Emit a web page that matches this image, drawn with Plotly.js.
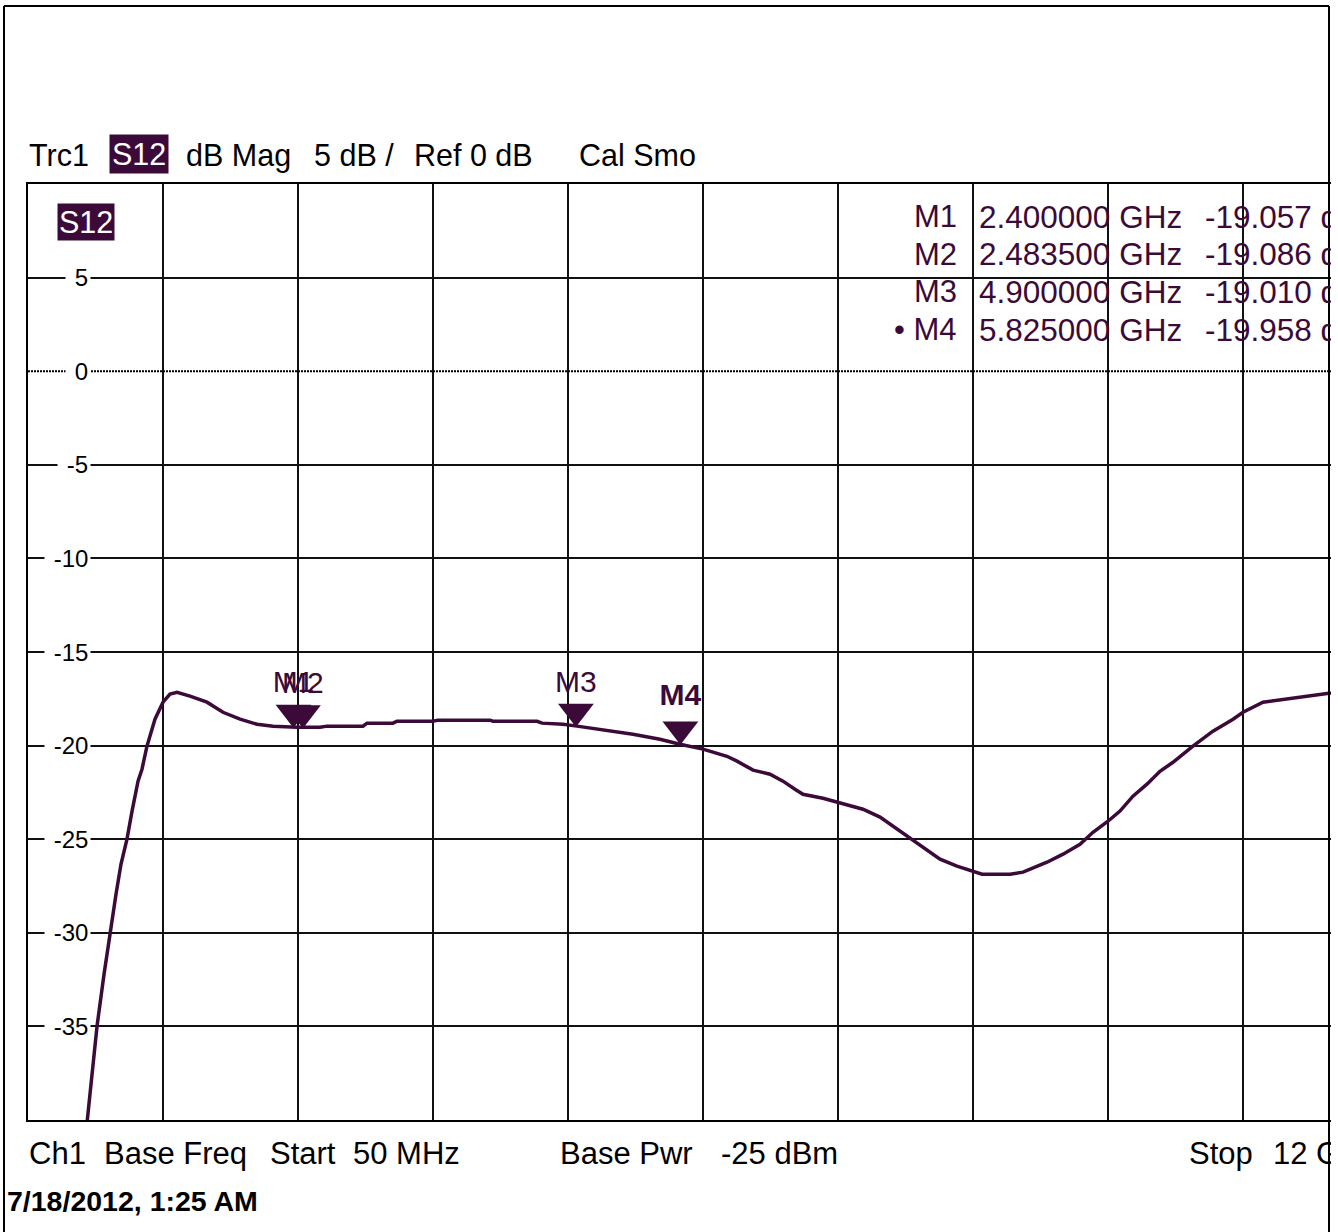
<!DOCTYPE html>
<html>
<head>
<meta charset="utf-8">
<script src="https://cdn.plot.ly/plotly-3.0.1.min.js"></script>
<style>
  html, body { margin: 0; padding: 0; background: #fff; overflow: hidden; }
  #clip { position: absolute; left: 0; top: 0; width: 1331px; height: 1232px; overflow: hidden; }
  #plot { position: absolute; left: 0; top: 0; width: 1420px; height: 1232px; }
</style>
</head>
<body>
<div id="clip"><div id="plot"></div></div>
<script>
// ---- Data ----
const startGHz = 0.05;
const stopGHz = 12;
const yMin = -40;
const yMax = 10;
const freqGHz = [0.52, 0.572, 0.617, 0.661, 0.723, 0.776, 0.829, 0.873, 0.926, 0.971,
  1.024, 1.059, 1.103, 1.174, 1.245, 1.307, 1.369, 1.484, 1.634, 1.776,
  1.927, 2.077, 2.219, 2.431, 2.635, 2.697, 3.015, 3.051, 3.281, 3.316,
  3.635, 3.679, 4.140, 4.166, 4.556, 4.600, 4.786, 4.910, 5.113, 5.405,
  5.644, 5.821, 6.025, 6.237, 6.326, 6.468, 6.618, 6.733, 6.839, 6.910,
  7.087, 7.238, 7.441, 7.592, 7.707, 7.857, 7.946, 8.123, 8.273, 8.415,
  8.495, 8.743, 8.858, 9.070, 9.212, 9.362, 9.477, 9.610, 9.716, 9.831,
  9.955, 10.070, 10.185, 10.362, 10.539, 10.717, 10.805, 10.982, 11.194, 11.310,
  11.425, 11.566, 12.0];
const s12dB = [-43.2, -40.0, -37.29, -34.99, -32.21, -29.97, -27.94, -26.34, -25.0, -23.5,
  -21.9, -21.26, -20.03, -18.59, -17.68, -17.25, -17.15, -17.36, -17.68, -18.22,
  -18.59, -18.86, -18.96, -19.02, -19.02, -18.96, -18.96, -18.80, -18.80, -18.70,
  -18.70, -18.64, -18.64, -18.70, -18.70, -18.80, -18.86, -18.96, -19.12, -19.39,
  -19.66, -19.93, -20.19, -20.57, -20.83, -21.31, -21.53, -21.90, -22.33, -22.60,
  -22.81, -23.08, -23.40, -23.82, -24.31, -24.95, -25.37, -26.07, -26.44, -26.71,
  -26.87, -26.87, -26.76, -26.23, -25.80, -25.27, -24.63, -24.04, -23.50, -22.70,
  -22.06, -21.37, -20.89, -20.03, -19.23, -18.59, -18.22, -17.68, -17.52, -17.41,
  -17.31, -17.20, -16.99];
const markerNames = ['M1', 'M2', 'M3', 'M4'];
const markerFreqGHz = [2.4, 2.4835, 4.9, 5.825];
const markerdB = [-19.057, -19.086, -19.010, -19.958];
const activeMarker = 3;
const yTickVals = [5, 0, -5, -10, -15, -20, -25, -30, -35];
const headerTexts = ['Trc1', 'dB Mag', '5 dB /', 'Ref 0 dB', 'Cal Smo'];
const traceName = 'S12';
const footerTexts = ['Ch1', 'Base Freq', 'Start', '50 MHz', 'Base Pwr', '-25 dBm', 'Stop', '12 GHz'];
const dateText = '7/18/2012, 1:25 AM';

// ---- Layout geometry ----
const W = 1420, H = 1232, L = 28, R = 42, T = 184, B = 112;
const PW = W - L - R, PH = H - T - B;
const px = x => (x - L) / PW;
const py = y => (H - B - y) / PH;

const PURPLE = '#3b0a39';
const FONT = 'Liberation Sans, Arial, sans-serif';

const nDiv = 10;
const xGrid = [];
for (let k = 0; k <= nDiv; k++) xGrid.push(startGHz + k * (stopGHz - startGHz) / nDiv);
const yGrid = yTickVals.filter(v => v !== 0);

const annotations = [];
// y tick labels (inside, with white background breaking the grid)
yTickVals.forEach(v => {
  annotations.push({
    xref: 'paper', yref: 'y', x: px(91), y: v, xanchor: 'right', yanchor: 'middle',
    text: '&nbsp;' + String(v), showarrow: false, bgcolor: '#ffffff', borderpad: 2,
    font: { family: FONT, size: 24, color: '#000' }
  });
});
// header
const headerX = [30, 187, 315, 415, 580];
headerTexts.forEach((t, i) => {
  annotations.push({ xref: 'paper', yref: 'paper', x: px(headerX[i] - 3), y: py(155),
    xanchor: 'left', yanchor: 'middle', text: t, showarrow: false,
    font: { family: FONT, size: 30.5, color: '#000' } });
});
annotations.push({ xref: 'paper', yref: 'paper', x: px(139), y: py(154), xanchor: 'center', yanchor: 'middle',
  text: traceName, showarrow: false, bgcolor: PURPLE, borderpad: 2,
  font: { family: FONT, size: 30.5, color: '#fff' } });
annotations.push({ xref: 'paper', yref: 'paper', x: px(86), y: py(222), xanchor: 'center', yanchor: 'middle',
  text: traceName, showarrow: false, bgcolor: PURPLE, borderpad: 1,
  font: { family: FONT, size: 30.5, color: '#fff' } });
// marker readout
markerNames.forEach((n, i) => {
  const yy = py(216.5 + i * 37.7);
  annotations.push({ xref: 'paper', yref: 'paper', x: px(959), y: yy, xanchor: 'right', yanchor: 'middle',
    text: (i === activeMarker ? '\u2022&nbsp;' : '') + n, showarrow: false,
    font: { family: FONT, size: 31, color: PURPLE } });
  annotations.push({ xref: 'paper', yref: 'paper', x: px(977), y: yy, xanchor: 'left', yanchor: 'middle',
    text: markerFreqGHz[i].toFixed(6) + ' GHz', showarrow: false,
    font: { family: FONT, size: 31.5, color: PURPLE } });
  annotations.push({ xref: 'paper', yref: 'paper', x: px(1203), y: yy, xanchor: 'left', yanchor: 'middle',
    text: markerdB[i].toFixed(3) + ' dB', showarrow: false,
    font: { family: FONT, size: 31.5, color: PURPLE } });
});
// footer
const footerX = [30, 105, 271, 354, 561, 722, 1190, 1274];
footerTexts.forEach((t, i) => {
  annotations.push({ xref: 'paper', yref: 'paper', x: px(footerX[i] - 3), y: py(1153),
    xanchor: 'left', yanchor: 'middle', text: t, showarrow: false,
    font: { family: FONT, size: 31, color: '#000' } });
});
annotations.push({ xref: 'paper', yref: 'paper', x: px(5), y: py(1201), xanchor: 'left', yanchor: 'middle',
  text: '<b>' + dateText + '</b>', showarrow: false,
  font: { family: FONT, size: 28.5, color: '#000' } });

const shapes = [
  // dotted reference line at 0 dB
  { type: 'line', xref: 'paper', yref: 'y', x0: 0, x1: 1, y0: 0, y1: 0, layer: 'above',
    line: { color: '#000', width: 2, dash: '2px,1px' } },
  // outer frame
  { type: 'line', xref: 'paper', yref: 'paper', x0: px(4), x1: px(4), y0: py(6), y1: py(1240), line: { color: '#000', width: 2 } },
  { type: 'line', xref: 'paper', yref: 'paper', x0: px(4), x1: px(1329), y0: py(6), y1: py(6), line: { color: '#000', width: 2 } },
  { type: 'line', xref: 'paper', yref: 'paper', x0: px(1329), x1: px(1329), y0: py(6), y1: py(1240), line: { color: '#000', width: 2 } }
];

const markerSize = 31;
const dBPerPx = (yMax - yMin) / PH;
const markerY = markerdB.map(v => v + (markerSize / 2) * dBPerPx);
const labelY = markerdB.map((v, i) => v + (i === activeMarker ? 47 : 43) * dBPerPx);
const markerText = markerNames.map((n, i) => i === activeMarker ? '<b>' + n + '</b>' : n);

const traces = [
  { x: freqGHz, y: s12dB, type: 'scatter', mode: 'lines',
    line: { color: PURPLE, width: 3.5 }, hoverinfo: 'skip' },
  { x: markerFreqGHz, y: markerY, type: 'scatter', mode: 'markers',
    marker: { symbol: 'triangle-down', size: markerSize, color: PURPLE },
    cliponaxis: false, hoverinfo: 'skip' },
  { x: markerFreqGHz, y: labelY, type: 'scatter', mode: 'text',
    text: markerText, textposition: 'middle center',
    textfont: { family: FONT, size: 30, color: PURPLE }, cliponaxis: false, hoverinfo: 'skip' }
];

const layout = {
  width: W, height: H,
  margin: { l: L, r: R, t: T, b: B, pad: 0 },
  paper_bgcolor: '#fff', plot_bgcolor: '#fff',
  showlegend: false,
  font: { family: FONT },
  xaxis: { range: [startGHz, stopGHz], tickmode: 'array', tickvals: xGrid, showticklabels: false,
    ticks: '', showgrid: true, gridcolor: '#111', gridwidth: 2, zeroline: false,
    showline: true, mirror: true, linecolor: '#000', linewidth: 2 },
  yaxis: { range: [yMin, yMax], tickmode: 'array', tickvals: yGrid, showticklabels: false,
    ticks: '', showgrid: true, gridcolor: '#111', gridwidth: 2, zeroline: false,
    showline: true, mirror: true, linecolor: '#000', linewidth: 2 },
  annotations: annotations,
  shapes: shapes
};

Plotly.newPlot('plot', traces, layout, { staticPlot: true, displayModeBar: false });
</script>
</body>
</html>
